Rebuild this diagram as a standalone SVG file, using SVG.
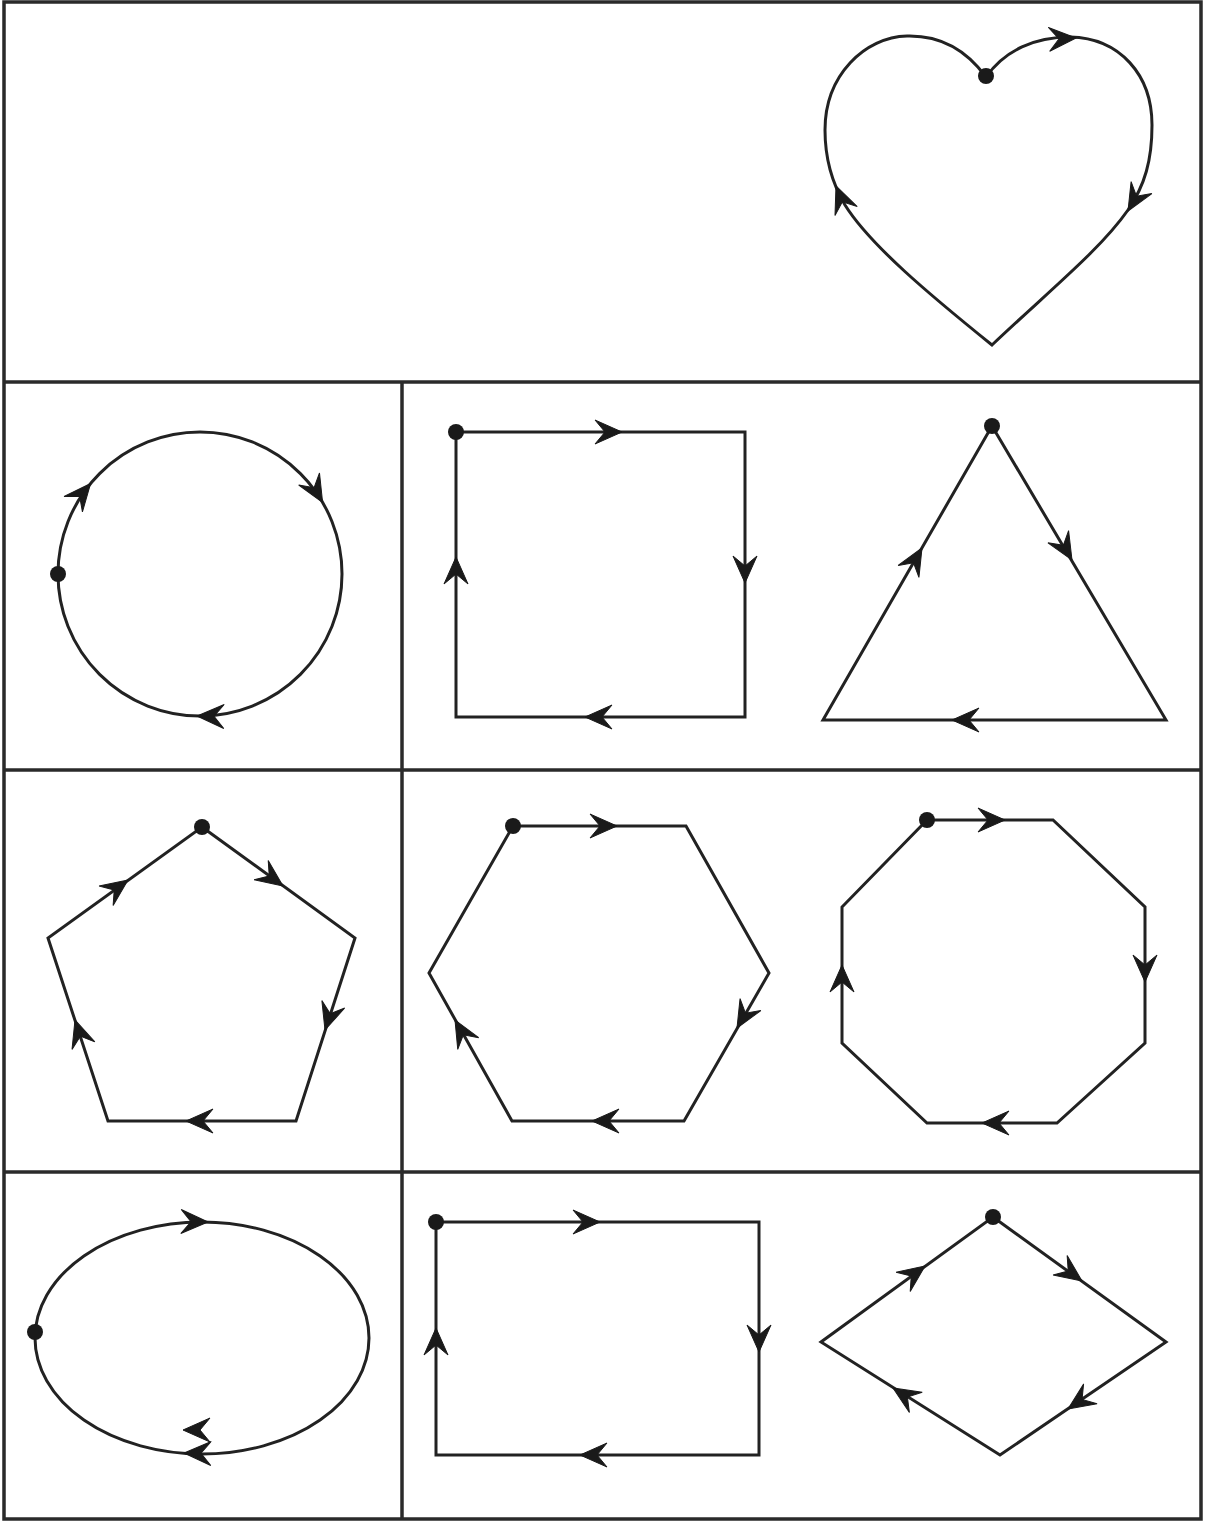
<svg xmlns="http://www.w3.org/2000/svg" width="1207" height="1521" viewBox="0 0 1207 1521">
<style>
.frame{fill:none;stroke:#2a2a2a;stroke-width:3.5}
.shape{fill:none;stroke:#222;stroke-width:3;stroke-linejoin:miter}
.dot{fill:#1a1a1a}
.ah{fill:#1a1a1a;stroke:#1a1a1a;stroke-width:1;stroke-linejoin:miter}
</style>
<defs>
<path id="ah" d="M0,0 L-27,-12 L-17,0 L-27,12 Z"/>
</defs>
<rect width="1207" height="1521" fill="#fff"/>
<g id="grid">
<rect class="frame" x="4" y="2" width="1197" height="1517"/>
<line class="frame" x1="4" y1="382" x2="1201" y2="382"/>
<line class="frame" x1="4" y1="770" x2="1201" y2="770"/>
<line class="frame" x1="4" y1="1172" x2="1201" y2="1172"/>
<line class="frame" x1="402" y1="382" x2="402" y2="1519"/>
</g>
<g id="heart">
<path class="shape" d="M992,345 C930,295 870,245 845,205 C832,183 825,160 825,130 C825,75 865,37 907,36 C945,35 970,55 986,77 C1005,50 1035,37 1070,37 C1120,38 1152,75 1152,125 C1152,160 1145,185 1128,210 C1100,250 1050,290 992,345 Z"/>
<circle class="dot" cx="986" cy="76" r="8"/>
<use href="#ah" class="ah" transform="translate(1076,38) rotate(-3)"/>
<use href="#ah" class="ah" transform="translate(1128,211) rotate(120)"/>
<use href="#ah" class="ah" transform="translate(836,186) rotate(-112)"/>
</g>
<g id="circle">
<circle class="shape" cx="200" cy="574" r="142"/>
<circle class="dot" cx="58" cy="574" r="8"/>
<use href="#ah" class="ah" transform="translate(90.6,483.5) rotate(-50)"/>
<use href="#ah" class="ah" transform="translate(322.6,502.4) rotate(60)"/>
<use href="#ah" class="ah" transform="translate(197,716) rotate(181)"/>
</g>
<g id="square">
<rect class="shape" x="456" y="432" width="289" height="285"/>
<circle class="dot" cx="456" cy="432" r="8"/>
<use href="#ah" class="ah" transform="translate(622,432) rotate(0)"/>
<use href="#ah" class="ah" transform="translate(745,583) rotate(90)"/>
<use href="#ah" class="ah" transform="translate(585,717) rotate(180)"/>
<use href="#ah" class="ah" transform="translate(456,557) rotate(-90)"/>
</g>
<g id="triangle">
<polygon class="shape" points="992,426 1166,720 823,720"/>
<circle class="dot" cx="992" cy="426" r="8"/>
<use href="#ah" class="ah" transform="translate(1072,560) rotate(59.4)"/>
<use href="#ah" class="ah" transform="translate(952,720) rotate(180)"/>
<use href="#ah" class="ah" transform="translate(922,548) rotate(-60.1)"/>
</g>
<g id="pentagon">
<polygon class="shape" points="202,827 355,938 296,1121 108,1121 48,938"/>
<circle class="dot" cx="202" cy="827" r="8"/>
<use href="#ah" class="ah" transform="translate(128,880) rotate(-35.8)"/>
<use href="#ah" class="ah" transform="translate(283,886) rotate(36)"/>
<use href="#ah" class="ah" transform="translate(325,1030) rotate(107.9)"/>
<use href="#ah" class="ah" transform="translate(186,1121) rotate(180)"/>
<use href="#ah" class="ah" transform="translate(75,1020) rotate(-108.2)"/>
</g>
<g id="hexagon">
<polygon class="shape" points="513,826 686,826 769,973 684,1121 512,1121 429,973"/>
<circle class="dot" cx="513" cy="826" r="8"/>
<use href="#ah" class="ah" transform="translate(617,826) rotate(0)"/>
<use href="#ah" class="ah" transform="translate(737,1028) rotate(119.9)"/>
<use href="#ah" class="ah" transform="translate(592,1121) rotate(180)"/>
<use href="#ah" class="ah" transform="translate(455,1020) rotate(-119.3)"/>
</g>
<g id="octagon">
<polygon class="shape" points="927,820 1053,820 1145,907 1145,1043 1057,1123 927,1123 842,1043 842,907"/>
<circle class="dot" cx="927" cy="820" r="8"/>
<use href="#ah" class="ah" transform="translate(1005,820) rotate(0)"/>
<use href="#ah" class="ah" transform="translate(1145,982) rotate(90)"/>
<use href="#ah" class="ah" transform="translate(982,1123) rotate(180)"/>
<use href="#ah" class="ah" transform="translate(842,965) rotate(-90)"/>
</g>
<g id="ellipse">
<ellipse class="shape" cx="202" cy="1338" rx="167" ry="116"/>
<circle class="dot" cx="35" cy="1332" r="8"/>
<use href="#ah" class="ah" transform="translate(208,1222) rotate(1)"/>
<use href="#ah" class="ah" transform="translate(183,1430) rotate(180)"/>
<use href="#ah" class="ah" transform="translate(184,1453) rotate(181)"/>
</g>
<g id="rectangle">
<rect class="shape" x="436" y="1222" width="323" height="233"/>
<circle class="dot" cx="436" cy="1222" r="8"/>
<use href="#ah" class="ah" transform="translate(600,1222) rotate(0)"/>
<use href="#ah" class="ah" transform="translate(759,1352) rotate(90)"/>
<use href="#ah" class="ah" transform="translate(580,1455) rotate(180)"/>
<use href="#ah" class="ah" transform="translate(436,1328) rotate(-90)"/>
</g>
<g id="diamond">
<polygon class="shape" points="993,1217 1166,1342 1000,1455 821,1342"/>
<circle class="dot" cx="993" cy="1217" r="8"/>
<use href="#ah" class="ah" transform="translate(1082,1281) rotate(35.85)"/>
<use href="#ah" class="ah" transform="translate(1068,1409) rotate(145.8)"/>
<use href="#ah" class="ah" transform="translate(893,1388) rotate(212.3)"/>
<use href="#ah" class="ah" transform="translate(925,1266) rotate(-36)"/>
</g>
</svg>
